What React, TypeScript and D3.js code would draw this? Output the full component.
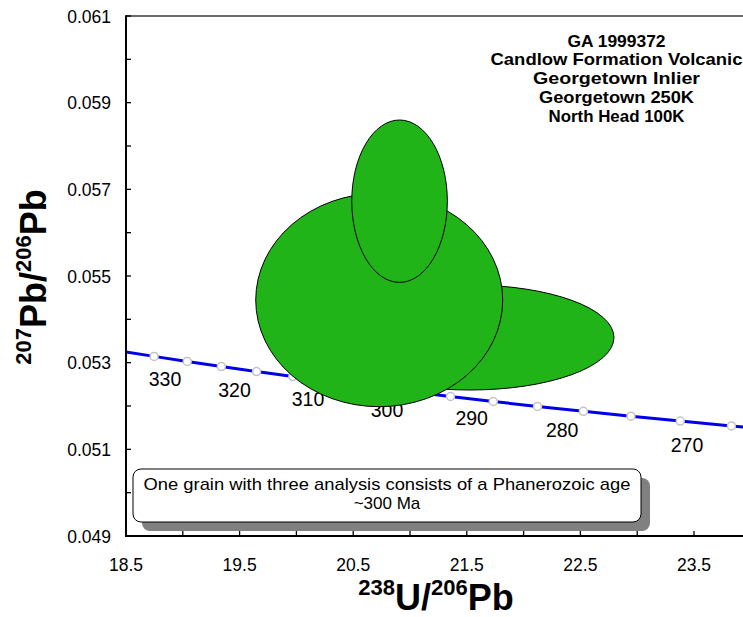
import React from 'react';
import * as d3 from 'd3';

// ---- data ----
const xTickValues = [18.5, 19.0, 19.5, 20.0, 20.5, 21.0, 21.5, 22.0, 22.5, 23.0, 23.5];
const xTickLabels = ['18.5', '19.5', '20.5', '21.5', '22.5', '23.5'];
const xLabelValues = [18.5, 19.5, 20.5, 21.5, 22.5, 23.5];
const yTickValues = [0.049, 0.05, 0.051, 0.052, 0.053, 0.054, 0.055, 0.056, 0.057, 0.058, 0.059, 0.06, 0.061];
const yLabelValues = [0.049, 0.051, 0.053, 0.055, 0.057, 0.059, 0.061];
const yTickLabels = ['0.049', '0.051', '0.053', '0.055', '0.057', '0.059', '0.061'];

// concordia markers (Ma) and their positions
const concordiaAges = [335, 330, 325, 320, 315, 310, 305, 300, 295, 290, 285, 280, 275, 270, 265];
const concordiaX = [18.7474, 19.0389, 19.3393, 19.6492, 19.9689, 20.2989, 20.6397, 20.9918, 21.3562, 21.7328, 22.1227, 22.5265, 22.9451, 23.3791, 23.8295];
const concordiaY = [0.053145, 0.053028, 0.052911, 0.052795, 0.052679, 0.052564, 0.052448, 0.052333, 0.052219, 0.052104, 0.05199, 0.051877, 0.051764, 0.051652, 0.051539];
const concordiaEndX = [18.5, 24.0];
const concordiaEndY = [0.053244, 0.051496];

// age labels
const labelAges = ['330', '320', '310', '300', '290', '280', '270'];
const labelX = [18.8433, 19.4551, 20.1021, 20.7975, 21.5431, 22.3398, 23.4388];
const labelY = [0.052468, 0.052215, 0.052007, 0.051753, 0.051562, 0.051292, 0.050945];

// error ellipses (drawn in this order)
const ellipseCx = [21.528, 20.729, 20.908];
const ellipseCy = [0.053581, 0.054446, 0.056726];
const ellipseRx = [1.2676, 1.0871, 0.4208];
const ellipseRy = [0.001212, 0.002462, 0.001874];

const titleLines = ['GA 1999372', 'Candlow Formation Volcanic', 'Georgetown Inlier', 'Georgetown 250K', 'North Head 100K'];
const noteLines = ['One grain with three analysis consists of a Phanerozoic age', '~300 Ma'];

// ---- layout ----
const W = 743;
const H = 617;
const FONT = 'Liberation Sans, Arial, Helvetica, sans-serif';
const titleWidths = [98, 252, 167, 155, 136];

export default function App() {
  const x = d3.scaleLinear().domain([18.5, 24.0]).range([126, 126 + 5.5 * 113.6]);
  const y = d3.scaleLinear().domain([0.049, 0.061]).range([536, 16]);
  const plotL = 126, plotR = W, plotT = 16, plotB = 536;

  const pts: [number, number][] = [
    [concordiaEndX[0], concordiaEndY[0]],
    ...concordiaX.map((v, i) => [v, concordiaY[i]] as [number, number]),
    [concordiaEndX[1], concordiaEndY[1]],
  ];
  const line = d3.line<[number, number]>().x(d => x(d[0])).y(d => y(d[1]))(pts) || '';

  return (
    <svg width={W} height={H} style={{ position: 'absolute', left: 0, top: 0, background: '#fff' }} fontFamily={FONT}>
      <defs>
        <clipPath id="plotClip">
          <rect x={plotL} y={plotT} width={plotR - plotL} height={plotB - plotT} />
        </clipPath>
      </defs>
      <rect x={0} y={0} width={W} height={H} fill="#fff" />

      <g clipPath="url(#plotClip)">
        <path d={line} fill="none" stroke="#0000e6" strokeWidth={3} />
        {concordiaX.map((v, i) => (
          <circle key={concordiaAges[i]} cx={x(v)} cy={y(concordiaY[i])} r={4} fill="#fff" stroke="#c4c4c4" strokeWidth={1.5} />
        ))}
        {labelAges.map((a, i) => (
          <text key={a} x={x(labelX[i])} y={y(labelY[i])} fontSize={19.5} textAnchor="middle" fill="#000">{a}</text>
        ))}
        {ellipseCx.map((cx, i) => (
          <ellipse key={i} cx={x(cx)} cy={y(ellipseCy[i])}
            rx={x(cx + ellipseRx[i]) - x(cx)} ry={y(ellipseCy[i]) - y(ellipseCy[i] + ellipseRy[i])}
            fill="#20b418" stroke="#000" strokeWidth={1} />
        ))}
      </g>

      {/* axes */}
      <line x1={plotL} x2={plotR} y1={plotT} y2={plotT} stroke="#3a3a3a" strokeWidth={1.5} />
      <line x1={plotL} x2={plotL} y1={plotT - 0.75} y2={plotB + 1} stroke="#000" strokeWidth={2} />
      <line x1={plotL - 1} x2={plotR} y1={plotB} y2={plotB} stroke="#000" strokeWidth={2} />
      {yTickValues.map(v => (
        <line key={'yt' + v} x1={plotL} x2={plotL + 5} y1={y(v)} y2={y(v)} stroke="#000" strokeWidth={1.3} />
      ))}
      {xTickValues.map(v => (
        <line key={'xt' + v} x1={x(v)} x2={x(v)} y1={plotB} y2={plotB - 5} stroke="#000" strokeWidth={1.3} />
      ))}
      {yLabelValues.map((v, i) => (
        <text key={'yl' + v} x={111} y={y(v) + 6.5} fontSize={17.5} textAnchor="end" fill="#000">{yTickLabels[i]}</text>
      ))}
      {xLabelValues.map((v, i) => (
        <text key={'xl' + v} x={x(v)} y={571} fontSize={17.5} textAnchor="middle" fill="#000">{xTickLabels[i]}</text>
      ))}

      {/* axis titles */}
      <text x={436} y={610} textAnchor="middle" fontWeight="bold" fill="#000">
        <tspan fontSize={22} dy={-15}>238</tspan>
        <tspan fontSize={36} dy={15}>U/</tspan>
        <tspan fontSize={22} dy={-15}>206</tspan>
        <tspan fontSize={36} dy={15}>Pb</tspan>
      </text>
      <text transform="translate(46,277) rotate(-90)" textAnchor="middle" fontWeight="bold" fill="#000">
        <tspan fontSize={22} dy={-15}>207</tspan>
        <tspan fontSize={36} dy={15}>Pb/</tspan>
        <tspan fontSize={22} dy={-15}>206</tspan>
        <tspan fontSize={36} dy={15}>Pb</tspan>
      </text>

      {/* title block */}
      {titleLines.map((t, i) => (
        <text key={t} x={616.5} y={46.5 + i * 18.8} fontSize={17} fontWeight="bold" textAnchor="middle" fill="#000"
          textLength={titleWidths[i]} lengthAdjust="spacingAndGlyphs">{t}</text>
      ))}

      {/* note box */}
      <rect x={142} y={478} width={508} height={53} rx={8} fill="#808080" />
      <rect x={133} y={469} width={508} height={53} rx={8} fill="#fff" stroke="#000" strokeWidth={1} />
      <text x={387} y={489.5} fontSize={17} textAnchor="middle" fill="#000" textLength={487} lengthAdjust="spacingAndGlyphs">{noteLines[0]}</text>
      <text x={387} y={508.5} fontSize={17} textAnchor="middle" fill="#000">{noteLines[1]}</text>
    </svg>
  );
}
